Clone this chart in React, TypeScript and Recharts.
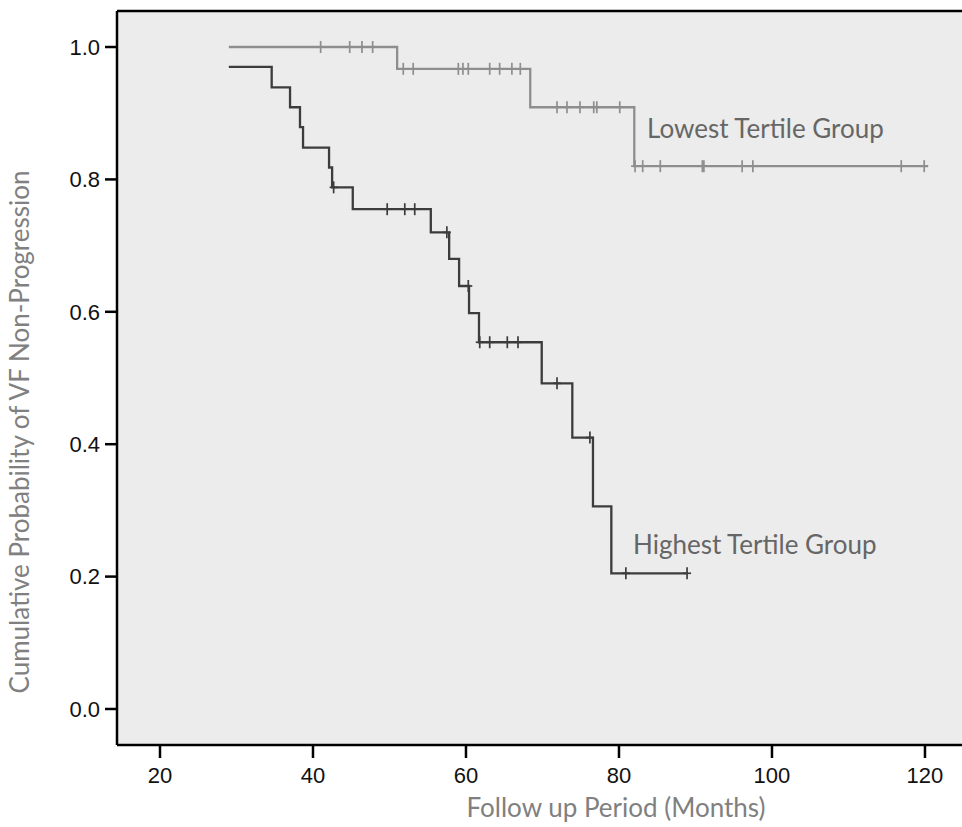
import { ComposedChart, Line, Scatter, XAxis, YAxis, CartesianGrid, ReferenceLine, Customized } from 'recharts';

// Lowest tertile group: step times (months) and survival after each step
const lowTimes = [29, 51.0, 68.4, 82.0, 120.4];
const lowSurv = [1.0, 0.967, 0.909, 0.82, 0.82];
const lowCensored = [
  41.0, 44.8, 46.4, 47.8, 51.8, 53.1, 59.0, 59.6, 60.3, 63.1, 64.4, 66.0, 67.1,
  71.9, 73.2, 74.9, 76.7, 77.1, 80.1, 82.1, 83.1, 85.4, 90.9, 91.1, 96.1, 97.5, 116.9, 119.9,
];

// Highest tertile group
const highTimes = [29, 34.6, 37.0, 38.3, 38.7, 42.1, 42.5, 45.2, 55.4, 57.8, 59.1, 60.4, 61.7, 69.9, 73.9, 76.6, 79.0, 88.9];
const highSurv = [0.97, 0.939, 0.909, 0.879, 0.848, 0.818, 0.788, 0.755, 0.72, 0.68, 0.639, 0.598, 0.554, 0.492, 0.41, 0.306, 0.205, 0.205];
const highCensored = [42.7, 49.7, 52.0, 53.3, 57.5, 60.3, 61.8, 63.1, 65.4, 66.8, 71.9, 76.2, 80.9, 88.9];

const xTicks = [20, 40, 60, 80, 100, 120];
const yTicks = [0, 0.2, 0.4, 0.6, 0.8, 1.0];

const X_DOMAIN = [14.38, 124.84];
const Y_DOMAIN = [-0.0544, 1.0544];

const toSteps = (times: number[], surv: number[]) => times.map((t, i) => ({ t, s: surv[i] }));

const survAt = (times: number[], surv: number[], t: number) => {
  let s = surv[0];
  times.forEach((tt, i) => {
    if (tt <= t) s = surv[i];
  });
  return s;
};

const toCensor = (cens: number[], times: number[], surv: number[]) =>
  cens.map((t) => ({ t, s: survAt(times, surv, t) }));

const lowData = toSteps(lowTimes, lowSurv);
const highData = toSteps(highTimes, highSurv);
const lowCens = toCensor(lowCensored, lowTimes, lowSurv);
const highCens = toCensor(highCensored, highTimes, highSurv);

const LOW_COLOR = '#8e8e8e';
const HIGH_COLOR = '#3c3c3c';

const censorMark = (color: string) => (props: any) => {
  const { cx, cy } = props;
  return (
    <g stroke={color} strokeWidth={1.7}>
      <line x1={cx} x2={cx} y1={cy - 6} y2={cy + 6} />
      <line x1={cx - 4} x2={cx + 4} y1={cy} y2={cy} />
    </g>
  );
};

const Titles = () => (
  <g fontFamily="Lato, 'Open Sans', sans-serif">
    <text x={647} y={138} fontSize={26} fill="#666">Lowest Tertile Group</text>
    <text x={633} y={554} fontSize={26} fill="#666">Highest Tertile Group</text>
    <text x={616} y={817} fontSize={26} fill="#808080" textAnchor="middle">
      Follow up Period (Months)
    </text>
    <text transform="translate(29, 432) rotate(-90)" fontSize={26} fill="#808080" textAnchor="middle">
      Cumulative Probability of VF Non-Progression
    </text>
  </g>
);

const tickStyle = { fill: '#111', fontSize: 22, fontFamily: "'Liberation Sans', Arial, sans-serif" };
const axisLine = { stroke: '#000', strokeWidth: 2.5 };

export default function App() {
  return (
    <div style={{ position: 'absolute', left: 0, top: 0, width: 962, height: 827, background: '#fff' }}>
      <ComposedChart width={962} height={827} margin={{ top: 11, right: 0, bottom: 0, left: 0 }}>
        <CartesianGrid horizontal={false} vertical={false} fill="#ececec" />
        <XAxis
          dataKey="t"
          type="number"
          domain={X_DOMAIN}
          ticks={xTicks}
          allowDataOverflow
          height={82}
          tickSize={13}
          tickMargin={9}
          axisLine={axisLine}
          tickLine={axisLine}
          tick={tickStyle}
        />
        <YAxis
          type="number"
          domain={Y_DOMAIN}
          ticks={yTicks}
          allowDataOverflow
          width={117}
          tickSize={12}
          tickMargin={5}
          tickFormatter={(v: number) => v.toFixed(1)}
          axisLine={axisLine}
          tickLine={axisLine}
          tick={tickStyle}
        />
        <ReferenceLine y={Y_DOMAIN[1]} stroke="#000" strokeWidth={2.5} ifOverflow="visible" />
        <Line
          data={lowData}
          dataKey="s"
          type="stepAfter"
          stroke={LOW_COLOR}
          strokeWidth={2.3}
          dot={false}
          isAnimationActive={false}
        />
        <Line
          data={highData}
          dataKey="s"
          type="stepAfter"
          stroke={HIGH_COLOR}
          strokeWidth={2.3}
          dot={false}
          isAnimationActive={false}
        />
        <Scatter data={lowCens} dataKey="s" shape={censorMark(LOW_COLOR)} isAnimationActive={false} />
        <Scatter data={highCens} dataKey="s" shape={censorMark(HIGH_COLOR)} isAnimationActive={false} />
        <Customized component={Titles} />
      </ComposedChart>
    </div>
  );
}
